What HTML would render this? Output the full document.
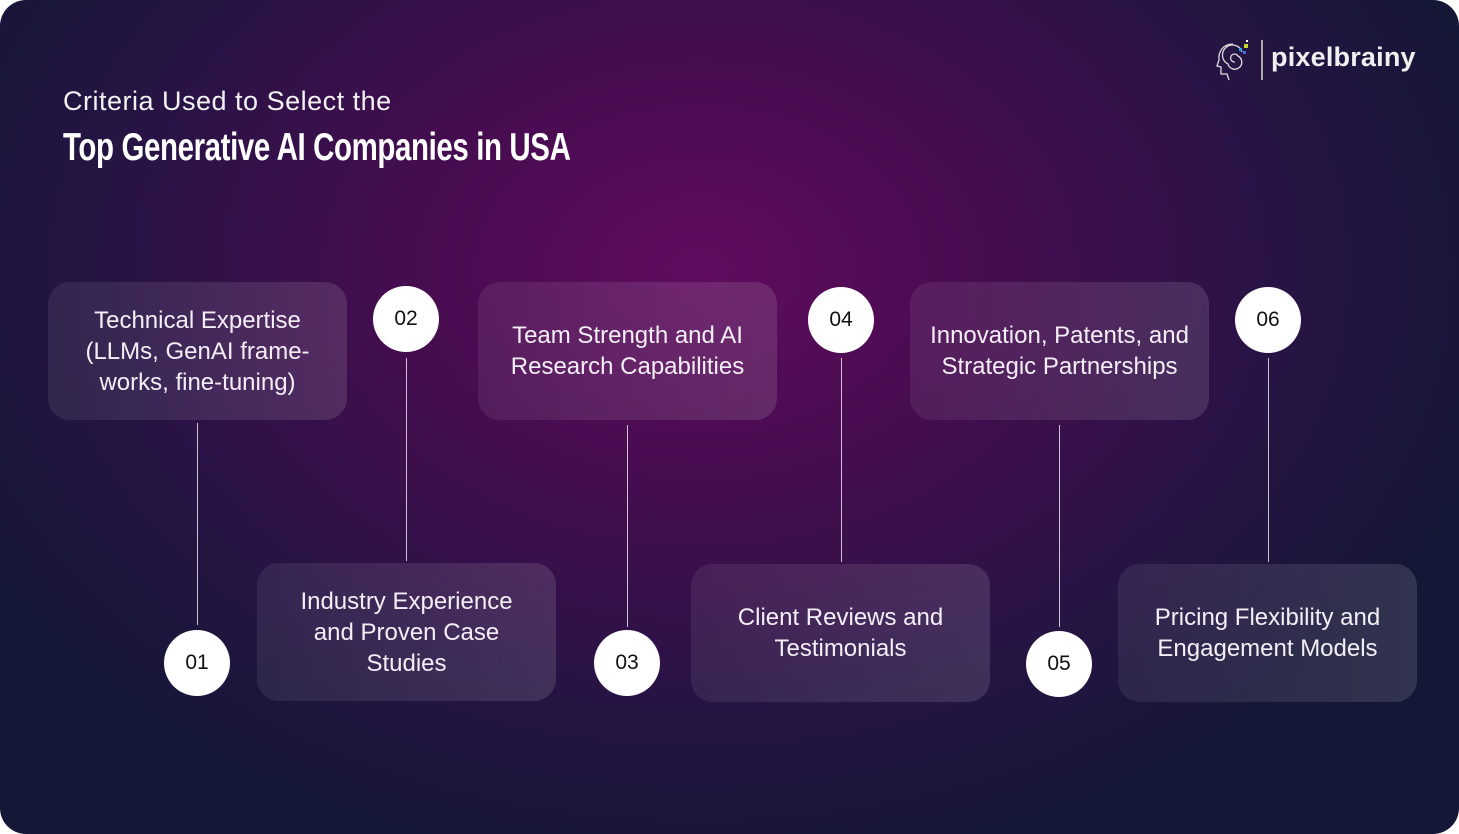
<!DOCTYPE html>
<html><head><style>
html,body{margin:0;padding:0;background:#fff;}
.wrap{position:relative;width:1459px;height:834px;border-radius:26px;overflow:hidden;
background:radial-gradient(ellipse 820px 600px at 700px 270px,#600c5e 0%,#470c50 35%,#2a1346 68%,#151737 100%);
font-family:"Liberation Sans",sans-serif;color:#fff;}
.card{position:absolute;width:299px;height:138px;border-radius:22px;
background:linear-gradient(90deg,rgba(255,255,255,0.07),rgba(255,255,255,0.12));
display:flex;align-items:center;justify-content:center;text-align:center;font-size:24px;line-height:31px;color:#f4eef6;}
.c{position:absolute;width:66px;height:66px;border-radius:50%;background:#fff;color:#111;font-size:21px;
display:flex;align-items:center;justify-content:center;}
.l{position:absolute;width:1px;background:rgba(255,255,255,0.75);}
</style></head><body><div class="wrap">
<div style="position:absolute;left:63px;top:86px;font-size:27px;letter-spacing:0.5px;color:#f2f2f2">Criteria Used to Select the</div>
<div style="position:absolute;left:63px;top:126px;font-size:39px;font-weight:bold;transform:scaleX(0.755);transform-origin:0 0;white-space:nowrap;letter-spacing:-0.5px;">Top Generative AI Companies in USA</div>

<svg style="position:absolute;left:1215px;top:38px" width="40" height="44" viewBox="0 0 40 44">
<path d="M18 6 C8 6 3 14 4 22 L2 28 L6 29 L6 36 L12 36 L14 42" fill="none" stroke="#ddd" stroke-width="1.3"/>
<path d="M20 24 a4 4 0 1 1 3-6 a7 7 0 1 1 -10 8 a10 10 0 1 1 14-12" fill="none" stroke="#ddd" stroke-width="1.3"/>
<rect x="29" y="6" width="4" height="4" fill="#c8d62a"/><rect x="24" y="10" width="3" height="3" fill="#2aa6e0"/><rect x="28" y="13" width="3" height="3" fill="#3a6ee0"/><rect x="31" y="2" width="2" height="2" fill="#fff"/>
</svg>
<div style="position:absolute;left:1261px;top:40px;width:2px;height:40px;background:#aaa"></div>
<div style="position:absolute;left:1271px;top:42px;font-size:27px;font-weight:bold;color:#f0f0f0;letter-spacing:0.2px">pixelbrainy</div>

<div class="card" style="left:48px;top:282px">Technical Expertise<br>(LLMs, GenAI frame-<br>works, fine-tuning)</div>
<div class="card" style="left:257px;top:563px">Industry Experience<br>and Proven Case<br>Studies</div>
<div class="card" style="left:478px;top:282px">Team Strength and AI<br>Research Capabilities</div>
<div class="card" style="left:691px;top:564px">Client Reviews and<br>Testimonials</div>
<div class="card" style="left:910px;top:282px">Innovation, Patents, and<br>Strategic Partnerships</div>
<div class="card" style="left:1118px;top:564px">Pricing Flexibility and<br>Engagement Models</div>

<div class="l" style="left:197px;top:423px;height:202px"></div>
<div class="l" style="left:406px;top:358px;height:203px"></div>
<div class="l" style="left:627px;top:425px;height:202px"></div>
<div class="l" style="left:841px;top:358px;height:204px"></div>
<div class="l" style="left:1059px;top:425px;height:202px"></div>
<div class="l" style="left:1268px;top:358px;height:204px"></div>

<div class="c" style="left:164px;top:630px">01</div>
<div class="c" style="left:373px;top:286px">02</div>
<div class="c" style="left:594px;top:630px">03</div>
<div class="c" style="left:808px;top:287px">04</div>
<div class="c" style="left:1026px;top:631px">05</div>
<div class="c" style="left:1235px;top:287px">06</div>
</div></body></html>
